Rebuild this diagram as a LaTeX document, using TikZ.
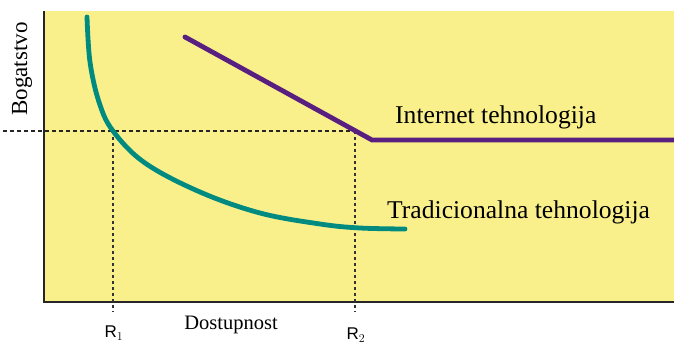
\documentclass[tikz,border=0pt]{standalone}
\usepackage{fontspec}
\setmainfont{Liberation Serif}
\newfontfamily\labsans{Liberation Sans}
\begin{document}
\begin{tikzpicture}[x=1pt,y=-1pt,
  axisline/.style={line width=1.8pt,draw=black!85},
  guide/.style={line width=1.3pt,draw=black!85,dash pattern=on 4pt off 3pt},
  vguide/.style={line width=1.4pt,draw=black!80,dash pattern=on 3pt off 3pt},
  curve/.style={line width=4.8pt,line cap=round},
  lbl/.style={inner sep=0pt,font=\fontsize{25.6}{28}\selectfont},
  tick/.style={inner sep=0pt,font=\labsans\fontsize{17}{19}\selectfont}]
\definecolor{bgyellow}{RGB}{249,240,140}
\definecolor{teal}{RGB}{0,138,128}
\definecolor{violet}{RGB}{88,30,128}
\useasboundingbox (0,0) rectangle (674,344);
\fill[white] (0,0) rectangle (674,344);
% plot area
\fill[bgyellow] (44,11) rectangle (674,302);
% axes
\coordinate (o) at (44,302);
\coordinate (ytop) at (44,11);
\coordinate (xend) at (674,302);
\draw[axisline] (ytop) -- (o) -- (xend);
% reference points
\coordinate (p1) at (113,131);
\coordinate (p2) at (355,131);
\coordinate (hstart) at (3,131);
\coordinate (r1low) at (113,312);
\coordinate (r2low) at (355,312);
\draw[guide] (hstart) -- (p2);
\draw[vguide] (p1) -- (r1low);
\draw[vguide] (p2) -- (r2low);
% traditional technology curve
\draw[curve,teal] plot[smooth,tension=0.6] coordinates
  {(87,17) (90,62) (99,102) (113,131) (145,163) (200,192) (260,213) (320,224) (360,228) (405,229)};
% internet technology line
\coordinate (a) at (185,37);
\coordinate (b) at (372,140);
\coordinate (c) at (674,140);
\draw[curve,violet,line cap=butt] (a) -- (b) -- (c);
\fill[violet] (a) circle (2.4pt);
% labels
\node[lbl,anchor=west] (inet) at (395,117) {Internet tehnologija};
\node[lbl,anchor=west] (trad) at (387,212) {Tradicionalna tehnologija};
\node[lbl,rotate=90,font=\fontsize{23}{25}\selectfont] (ylab) at (22,69) {Bogatstvo};
\node[lbl,font=\fontsize{20.5}{22}\selectfont] (xlab) at (231,325) {Dostupnost};
\node[tick] (r1) at (114,333) {R$_1$};
\node[tick] (r2) at (356,335) {R$_2$};
\end{tikzpicture}
\end{document}
